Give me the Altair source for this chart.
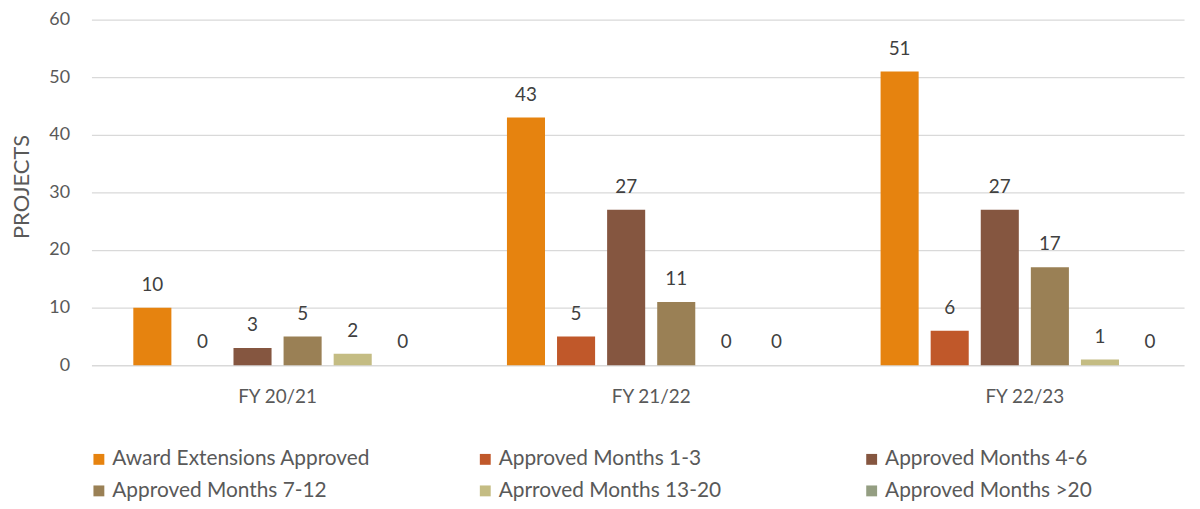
import altair as alt
import pandas as pd

years = ["FY 20/21", "FY 21/22", "FY 22/23"]
series = [
    "Award Extensions Approved",
    "Approved Months  1-3",
    "Approved Months 4-6",
    "Approved Months 7-12",
    "Aprroved Months 13-20",
    "Approved Months >20",
]
colors = ["#E6830F", "#C0582A", "#855640", "#9A8055", "#C4BC83", "#949E82"]

award_ext = [10, 43, 51]
months_1_3 = [0, 5, 6]
months_4_6 = [3, 27, 27]
months_7_12 = [5, 11, 17]
months_13_20 = [2, 0, 1]
months_gt20 = [0, 0, 0]

values = [award_ext, months_1_3, months_4_6, months_7_12, months_13_20, months_gt20]
rows = []
for s, vals in zip(series, values):
    for y, v in zip(years, vals):
        rows.append({"year": y, "series": s, "value": v})
df = pd.DataFrame(rows)

FONT = "Lato"

x_enc = alt.X(
    "year:N",
    sort=years,
    title=None,
    scale=alt.Scale(paddingInner=0.1957, paddingOuter=0.06, align=0.80),
    axis=alt.Axis(labelAngle=0, domain=False, ticks=False, labelPadding=22,
                  labelFontSize=19, labelColor="#595959", labelFont=FONT),
)
xo_enc = alt.XOffset("series:N", sort=series,
                     scale=alt.Scale(paddingInner=0.24, paddingOuter=0.12))
y_enc = alt.Y(
    "value:Q",
    title="PROJECTS",
    scale=alt.Scale(domain=[0, 60], nice=False),
    axis=alt.Axis(values=[0, 10, 20, 30, 40, 50, 60], domain=False, ticks=False,
                  labelPadding=22, labelFontSize=18, labelColor="#595959",
                  labelFont=FONT, titleFont=FONT, titleFontSize=22,
                  titleFontWeight="normal", titleColor="#595959", titlePadding=15,
                  titleY=168,
                  gridColor="#D9D9D9", gridWidth=1.3),
)

base = alt.Chart(df).encode(x=x_enc, xOffset=xo_enc, y=y_enc)

bars = base.mark_bar().encode(
    color=alt.Color(
        "series:N",
        sort=series,
        scale=alt.Scale(domain=series, range=colors),
        legend=alt.Legend(
            title=None, orient="none", direction="horizontal", legendX=-3, legendY=432,
            columns=3, gridAlign="all", columnPadding=105, rowPadding=10,
            symbolType="square", symbolSize=120, symbolStrokeWidth=0,
            labelFontSize=21, labelFont=FONT, labelColor="#595959", labelOffset=3,
            labelLimit=400,
        ),
    )
)

labels = base.mark_text(baseline="bottom", dy=-13, fontSize=19, font=FONT,
                        color="#404040").encode(text="value:Q")

chart = (
    alt.layer(bars, labels)
    .properties(width=1100, height=348,
                autosize=alt.AutoSizeParams(type="none"),
                padding={"left": 84, "top": 10, "right": 8, "bottom": 135})
    .configure_view(stroke=None)
)

chart.save("out.html", embed_options={"renderer": "svg", "actions": False})
